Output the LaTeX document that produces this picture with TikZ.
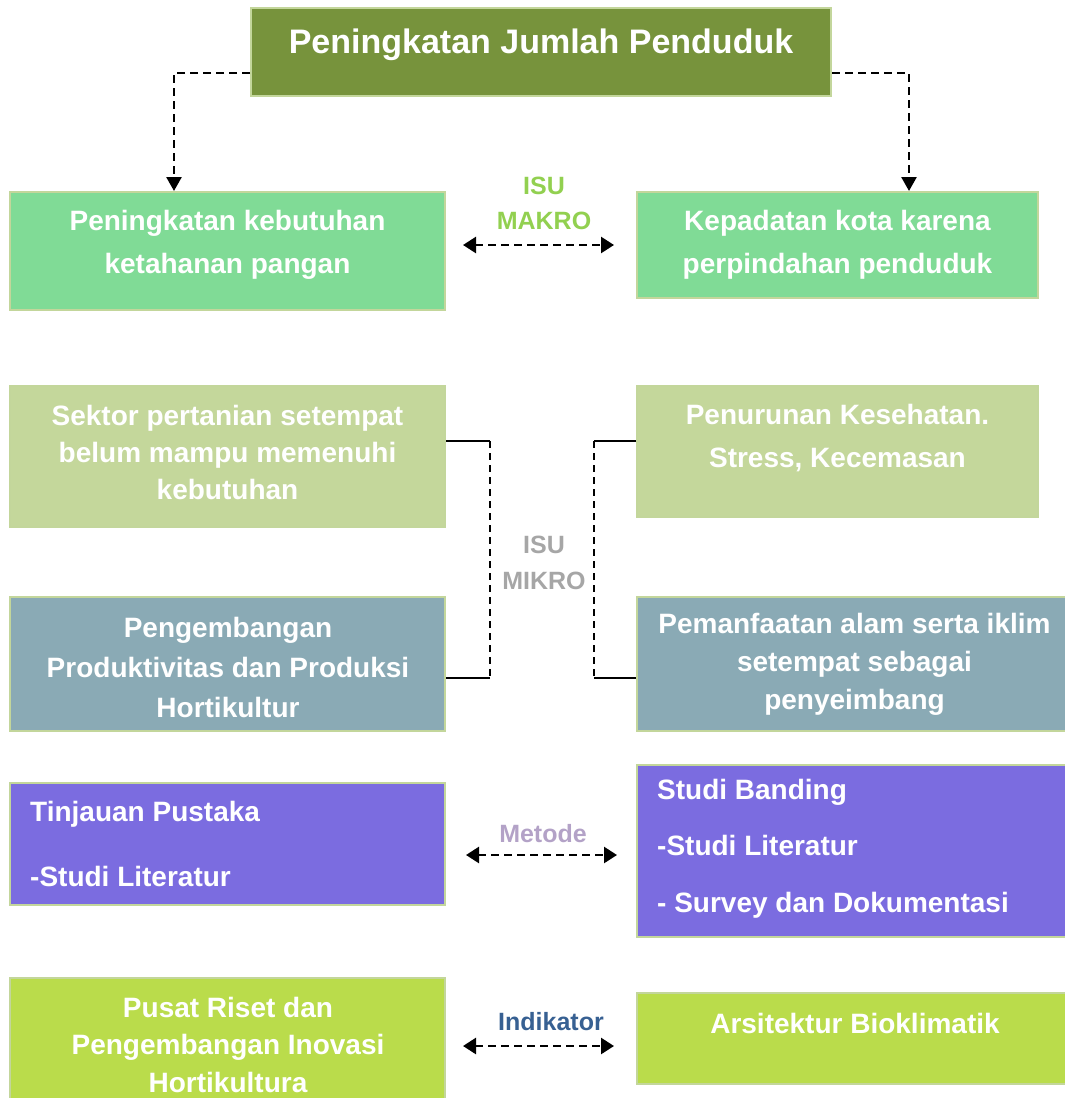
\documentclass[tikz,border=0pt]{standalone}
\usepackage{fontspec}
\setmainfont{Liberation Sans}
\usetikzlibrary{arrows.meta, positioning, calc}
\definecolor{olive}{HTML}{77933C}
\definecolor{hijau}{HTML}{80DB96}
\definecolor{pucuk}{HTML}{C4D79B}
\definecolor{abu}{HTML}{8AAAB5}
\definecolor{ungu}{HTML}{7B6CE0}
\definecolor{limau}{HTML}{BADC4B}
\definecolor{tepi}{HTML}{C3D69B}
\definecolor{makro}{HTML}{92D050}
\definecolor{mikro}{HTML}{A6A6A6}
\definecolor{metode}{HTML}{B3A2C7}
\definecolor{indik}{HTML}{376092}

\begin{document}
\begin{tikzpicture}[x=1pt,y=-1pt,
  kotak/.style={rectangle,draw=tepi,line width=2pt,inner sep=0pt},
  isi/.style={text=white,align=center,inner sep=0pt,font=\bfseries\fontsize{28}{#1}\selectfont},
  isi/.default=40,
  isu/.style={align=center,inner sep=0pt,font=\bfseries\fontsize{25}{#1}\selectfont},
  isu/.default=35,
  panah/.style={-{Triangle[length=14pt,width=15pt]},line width=2.6pt,dash pattern=on 8pt off 5pt},
  dua/.style={{Triangle[length=13pt,width=16pt]}-{Triangle[length=13pt,width=16pt]},line width=2.6pt,dash pattern=on 8pt off 5pt},
  garis/.style={line width=2.2pt},
  putus/.style={line width=2pt,dash pattern=on 7pt off 5pt}
]
  \useasboundingbox (0,0) rectangle (1065,1098);
  \clip (0,0) rectangle (1065,1098);
  % kotak
  \node[kotak,fill=olive,minimum width=580pt,minimum height=88pt] (judul) at (541,52) {};
  \node[kotak,fill=hijau,minimum width=435pt,minimum height=118pt] (pangan) at (227.5,251) {};
  \node[kotak,fill=hijau,minimum width=401pt,minimum height=106pt] (kepadatan) at (837.5,245) {};
  \node[kotak,fill=pucuk,minimum width=435pt,minimum height=141pt] (sektor) at (227.5,456.5) {};
  \node[kotak,fill=pucuk,minimum width=401pt,minimum height=131pt] (kesehatan) at (837.5,451.5) {};
  \node[kotak,fill=abu,minimum width=435pt,minimum height=134pt] (hortikultur) at (227.5,664) {};
  \node[kotak,fill=abu,minimum width=433pt,minimum height=134pt] (alam) at (853.5,664) {};
  \node[kotak,fill=ungu,minimum width=435pt,minimum height=122pt] (pustaka) at (227.5,844) {};
  \node[kotak,fill=ungu,minimum width=433pt,minimum height=172pt] (banding) at (853.5,851) {};
  \node[kotak,fill=limau,minimum width=435pt,minimum height=132pt] (riset) at (227.5,1044) {};
  \node[kotak,fill=limau,minimum width=433pt,minimum height=91pt] (bioklimatik) at (853.5,1038.5) {};
  % teks
  \node[isi,font=\bfseries\fontsize{34}{40}\selectfont] (judul-t) at (541,45) {Peningkatan Jumlah Penduduk};
  \node[isi=43] (pangan-t) at (227.5,244.5) {Peningkatan kebutuhan\\ketahanan pangan};
  \node[isi=43] (kepadatan-t) at (837.5,244.5) {Kepadatan kota karena\\perpindahan penduduk};
  \node[isi=37] (sektor-t) at (227.5,452) {Sektor pertanian setempat\\belum mampu memenuhi\\kebutuhan};
  \node[isi=43] (kesehatan-t) at (837.5,438.5) {Penurunan Kesehatan.\\Stress, Kecemasan};
  \node[isi=40] (hortikultur-t) at (228,667) {Pengembangan\\Produktivitas dan Produksi\\Hortikultur};
  \node[isi=38] (alam-t) at (854.5,664) {Pemanfaatan alam serta iklim\\setempat sebagai\\penyeimbang};
  \node[isi=65,align=left,anchor=west] (pustaka-t) at (30,843.5) {Tinjauan Pustaka\\-Studi Literatur};
  \node[isi=56.5,align=left,anchor=west] (banding-t) at (657,848.5) {Studi Banding\\-Studi Literatur\\- Survey dan Dokumentasi};
  \node[isi=37.5] (riset-t) at (228,1044.5) {Pusat Riset dan\\Pengembangan Inovasi\\Hortikultura};
  \node[isi] (bioklimatik-t) at (855,1023) {Arsitektur Bioklimatik};
  \node[isu,text=makro] (isumakro) at (544,203.5) {ISU\\MAKRO};
  \node[isu=36,text=mikro] (isumikro) at (544,563) {ISU\\MIKRO};
  \node[isu,text=metode] (metode) at (543,834) {Metode};
  \node[isu,text=indik] (indikator) at (551,1022) {Indikator};
  % penghubung
  \coordinate (kiri) at (174,73);
  \coordinate (kanan) at (909,73);
  \draw[panah] (kiri -| judul.west) -- (kiri) -- (kiri |- pangan.north);
  \draw[panah] (kanan -| judul.east) -- (kanan) -- (kanan |- kepadatan.north);
  \coordinate (mk1) at (463,245); \coordinate (mk2) at (614,245);
  \draw[dua] (mk1) -- (mk2);
  \coordinate (mt1) at (466,855); \coordinate (mt2) at (617,855);
  \draw[dua] (mt1) -- (mt2);
  \coordinate (in1) at (463,1046); \coordinate (in2) at (614,1046);
  \draw[dua] (in1) -- (in2);
  \coordinate (mi1) at (490,441); \coordinate (mi2) at (490,678);
  \coordinate (mi3) at (594,441); \coordinate (mi4) at (594,678);
  \draw[garis] (sektor.east |- mi1) -- (mi1); \draw[putus] (mi1) -- (mi2); \draw[garis] (mi2) -- (mi2 -| hortikultur.east);
  \draw[garis] (kesehatan.west |- mi3) -- (mi3); \draw[putus] (mi3) -- (mi4); \draw[garis] (mi4) -- (mi4 -| alam.west);
\end{tikzpicture}
\end{document}
